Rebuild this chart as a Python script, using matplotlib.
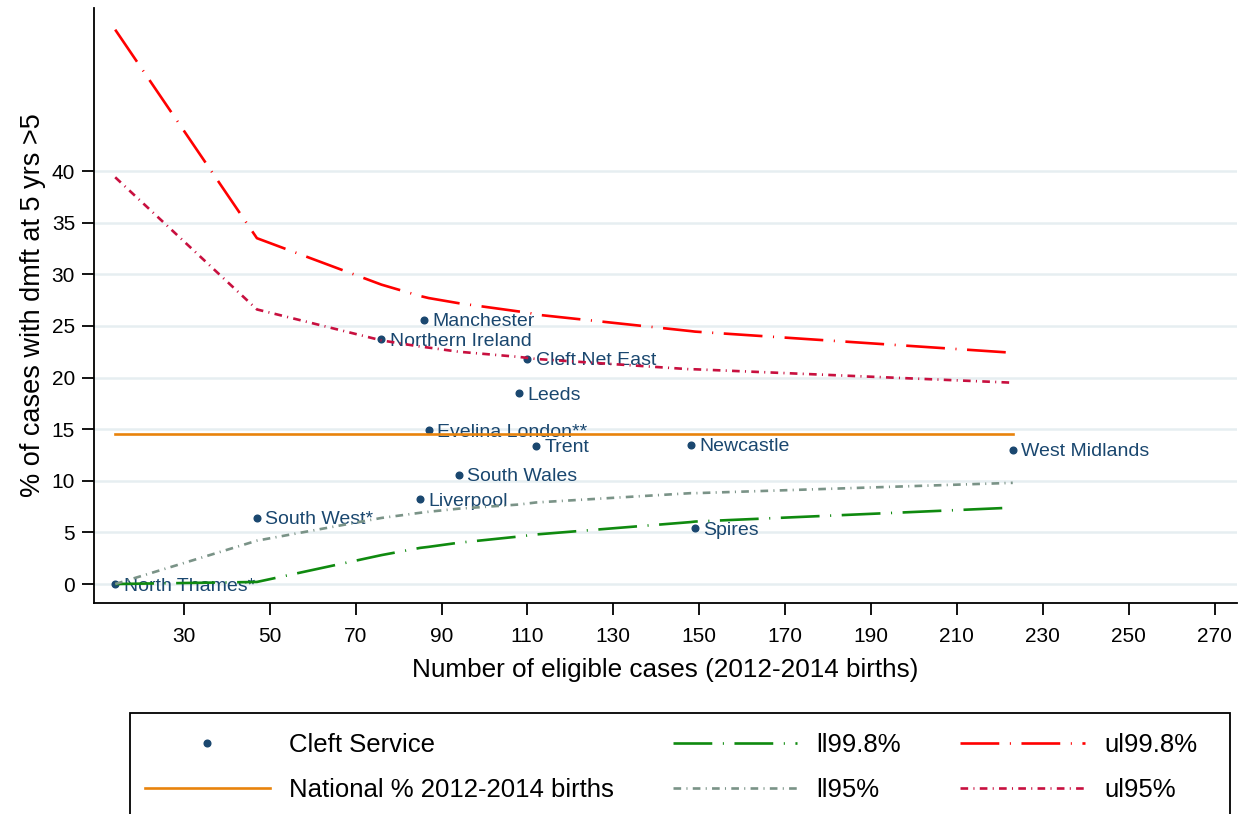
import matplotlib
matplotlib.use("Agg")
import matplotlib.pyplot as plt
from matplotlib.patches import Rectangle

plt.rcParams['font.family'] = ['Liberation Sans', 'DejaVu Sans']

# cleft services: eligible cases and % with dmft > 5
services = ['North Thames*', 'South West*', 'Northern Ireland', 'Liverpool', 'Manchester',
            'Evelina London**', 'South Wales', 'Leeds', 'Cleft Net East', 'Trent',
            'Newcastle', 'Spires', 'West Midlands']
cases = [14, 47, 76, 85, 86, 87, 94, 108, 110, 112, 148, 149, 223]
pct = [0.0, 6.4, 23.7, 8.2, 25.6, 14.9, 10.6, 18.5, 21.8, 13.4, 13.5, 5.4, 13.0]

national = 14.5

# funnel limits read at each service size
ll998 = [0.0, 0.2, 2.8, 3.5, 3.55, 3.6, 4.0, 4.6, 4.7, 4.8, 6.0, 6.05, 7.4]
ul998 = [53.7, 33.5, 29.0, 27.9, 27.8, 27.7, 27.2, 26.4, 26.3, 26.1, 24.5, 24.45, 22.4]
ll95 = [0.0, 4.2, 6.4, 6.9, 6.95, 7.0, 7.3, 7.7, 7.8, 7.9, 8.8, 8.8, 9.8]
ul95 = [39.4, 26.6, 23.6, 23.0, 22.95, 22.9, 22.5, 22.0, 21.9, 21.8, 20.8, 20.8, 19.5]

navy = '#1a476f'
lw = 1.9

fig = plt.figure(figsize=(12.41, 8.14), dpi=100)
ax = fig.add_axes([0.0757, 0.2592, 0.921, 0.7310])

ax.set_yticks(range(0, 41, 5))
ax.set_xticks(range(30, 271, 20))
ax.grid(axis='y', color='#e6eef1', lw=1.8, zorder=0)
ax.set_axisbelow(True)

pts, = ax.plot(cases, pct, 'o', color=navy, ms=4.8, zorder=2, label='Cleft Service')
for name, x, y in zip(services, cases, pct):
    ax.annotate(name, (x, y), xytext=(6, 0), textcoords='offset points',
                va='center_baseline', ha='left', fontsize=14, color=navy, zorder=2)

long_dd = (0, (14.7, 4.0, 0.4, 4.0))
short_dd = (0, (2.9, 2.0, 0.4, 2.0))

nat, = ax.plot([cases[0], cases[-1]], [national, national], color='#e8830c', lw=lw,
               zorder=3, label='National % 2012-2014 births')
l1, = ax.plot(cases, ll998, color='#0f8a0f', lw=lw, ls=long_dd, zorder=3, label='ll99.8%')
l2, = ax.plot(cases, ll95, color='#7a9387', lw=lw, ls=short_dd, zorder=3, label='ll95%')
u1, = ax.plot(cases, ul998, color='#ff0000', lw=lw, ls=long_dd, zorder=3, label='ul99.8%')
u2, = ax.plot(cases, ul95, color='#c8103f', lw=lw, ls=short_dd, zorder=3, label='ul95%')

ax.set_xlim(9.05, 275.2)
ax.set_ylim(-1.84, 55.8)

for s in ['top', 'right']:
    ax.spines[s].set_visible(False)
for s in ['left', 'bottom']:
    ax.spines[s].set_linewidth(1.3)

ax.tick_params(axis='both', direction='out', length=8.6, width=1.3, labelsize=15)
ax.tick_params(axis='x', pad=9)
ax.tick_params(axis='y', pad=5)

ax.set_xlabel('Number of eligible cases (2012-2014 births)', fontsize=18.8, labelpad=8)
ax.set_ylabel('% of cases with dmft at 5 yrs >5', fontsize=19.5, labelpad=4)

leg = fig.legend(handles=[pts, nat, l1, l2, u1, u2], ncol=3, loc='upper left',
                 bbox_to_anchor=(145 / 1241, 1 - 733 / 814), fontsize=18.5,
                 handlelength=4.85, handletextpad=0.75, columnspacing=2.3,
                 borderpad=0, labelspacing=0.83, numpoints=1, frameon=False,
                 borderaxespad=0)

# legend box runs off the bottom edge, as in the original
fig.patches.append(Rectangle((130 / 1241, -0.05), 1100 / 1241, 0.05 + (1 - 713 / 814),
                             transform=fig.transFigure, fill=False, ec='black', lw=1.3))

fig.savefig('out.png', dpi=100)
